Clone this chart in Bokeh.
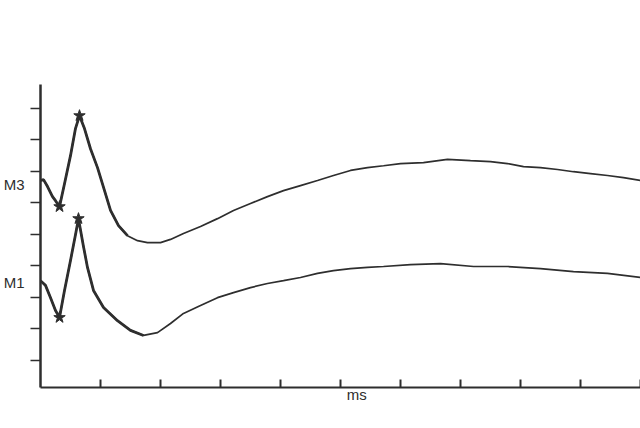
from bokeh.plotting import figure
from bokeh.models import FixedTicker, LinearAxis, Range1d
from bokeh.embed import file_html
from bokeh.resources import INLINE

# ---- data (x in ms axis units, y in tick units) ----
m3_x = [0, 0.05, 0.117, 0.2, 0.25, 0.317, 0.4, 0.5, 0.583, 0.65, 0.733, 0.833, 0.95,
        1.067, 1.167, 1.3, 1.45, 1.617, 1.783, 2.0, 2.167, 2.383, 2.667, 2.95, 3.217,
        3.5, 3.783, 4.05, 4.333, 4.617, 4.883, 5.167, 5.45, 5.717, 6.0, 6.383, 6.783,
        7.167, 7.5, 7.783, 8.05, 8.333, 8.617, 8.883, 9.167, 9.45, 9.717, 10.0]
m3_y = [6.70, 6.73, 6.51, 6.19, 6.06, 5.87, 6.60, 7.49, 8.35, 8.76, 8.35, 7.71, 7.11,
        6.38, 5.75, 5.27, 4.95, 4.79, 4.73, 4.73, 4.83, 5.02, 5.24, 5.49, 5.75,
        5.97, 6.19, 6.38, 6.54, 6.70, 6.86, 7.02, 7.11, 7.17, 7.24, 7.27, 7.37,
        7.33, 7.30, 7.24, 7.14, 7.11, 7.05, 6.98, 6.92, 6.86, 6.79, 6.70]

m1_x = [0, 0.083, 0.167, 0.25, 0.317, 0.4, 0.5, 0.583, 0.633, 0.717, 0.783, 0.883,
        1.05, 1.283, 1.5, 1.717, 1.95, 2.167, 2.383, 2.667, 2.95, 3.217, 3.5, 3.783,
        4.05, 4.333, 4.617, 4.883, 5.167, 5.45, 5.717, 6.167, 6.667, 7.217, 7.783,
        8.333, 8.883, 9.45, 10.0]
m1_y = [3.52, 3.37, 2.98, 2.57, 2.35, 3.21, 4.16, 4.98, 5.49, 4.60, 3.94, 3.21,
        2.67, 2.25, 1.94, 1.78, 1.87, 2.16, 2.48, 2.73, 2.98, 3.14, 3.30, 3.43,
        3.52, 3.62, 3.75, 3.84, 3.90, 3.94, 3.97, 4.03, 4.06, 3.97, 3.97,
        3.90, 3.81, 3.75, 3.62]

# marked extrema (min, peak)
m3_mark_x = [0.317, 0.65]
m3_mark_y = [5.87, 8.76]
m1_mark_x = [0.317, 0.633]
m1_mark_y = [2.35, 5.49]

series_names = ["M3", "M1"]
name_y = [6.56, 3.46]
x_ticks = [1, 2, 3, 4, 5, 6, 7, 8, 9, 10]
y_ticks = [1, 2, 3, 4, 5, 6, 7, 8, 9]
x_title = "ms"
x_title_pos = 5.27

INK = "#2e2e2e"
FONT = "Liberation Sans"

p = figure(width=640, height=428, output_backend="svg", toolbar_location=None,
           x_range=Range1d(0, 10), y_range=Range1d(0.127, 9.75),
           min_border_left=40, min_border_right=0, min_border_top=84,
           min_border_bottom=41)
p.outline_line_color = None
p.grid.visible = False
p.background_fill_color = "white"
p.border_fill_color = "white"

# main axes (ticks only)
for ax in p.xaxis:
    ax.ticker = FixedTicker(ticks=x_ticks)
    ax.major_tick_in = 8
    ax.major_tick_out = 0
    ax.minor_tick_line_color = None
    ax.major_label_overrides = {t: "" for t in x_ticks}
    ax.major_label_text_font_size = "1px"
    ax.major_label_standoff = 0
    ax.axis_line_color = INK
    ax.axis_line_width = 2
    ax.major_tick_line_color = INK
    ax.major_tick_line_width = 2
for ax in p.yaxis:
    ax.ticker = FixedTicker(ticks=y_ticks)
    ax.major_tick_in = 0
    ax.major_tick_out = 10
    ax.minor_tick_line_color = None
    ax.major_label_overrides = {t: "" for t in y_ticks}
    ax.major_label_text_font_size = "1px"
    ax.major_label_standoff = 0
    ax.axis_line_color = INK
    ax.axis_line_width = 2.5
    ax.major_tick_line_color = INK
    ax.major_tick_line_width = 1.5

# label-only axes for the series names and the x title
name_axis = LinearAxis(ticker=FixedTicker(ticks=name_y),
                       major_label_overrides={v: n for v, n in zip(name_y, series_names)},
                       axis_line_color=None, major_tick_line_color=None,
                       minor_tick_line_color=None, major_tick_in=0, major_tick_out=0,
                       major_label_standoff=6, major_label_text_font=FONT,
                       major_label_text_font_size="15px", major_label_text_color=INK)
p.add_layout(name_axis, "left")

title_axis = LinearAxis(ticker=FixedTicker(ticks=[x_title_pos]),
                        major_label_overrides={x_title_pos: x_title},
                        axis_line_color=None, major_tick_line_color=None,
                        minor_tick_line_color=None, major_tick_in=0, major_tick_out=0,
                        major_label_standoff=-2, major_label_text_font=FONT,
                        major_label_text_font_size="15px", major_label_text_color=INK)
p.add_layout(title_axis, "below")

# curves
p.line(m3_x, m3_y, line_color=INK, line_width=1.7)
p.line(m1_x, m1_y, line_color=INK, line_width=1.7)
# bolder early segment (as in the original trace)
p.line(m3_x[:17], m3_y[:17], line_color=INK, line_width=2.8)
p.line(m1_x[:16], m1_y[:16], line_color=INK, line_width=2.8)

p.scatter(m3_mark_x, m3_mark_y, marker="star", size=12, color=INK)
p.scatter(m1_mark_x, m1_mark_y, marker="star", size=12, color=INK)

open("out.html", "w").write(file_html(p, INLINE))
